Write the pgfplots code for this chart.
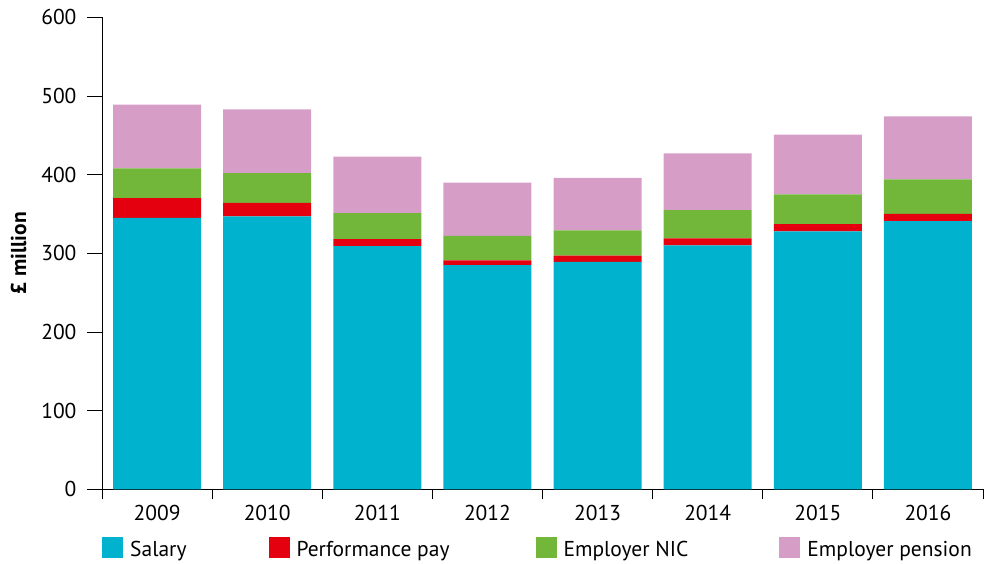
\documentclass[border=0pt]{standalone}
\usepackage{fontspec}
\setmainfont{PT Sans}
\usepackage{pgfplots}
\pgfplotsset{compat=1.18}
\definecolor{salary}{RGB}{0,178,205}
\definecolor{perf}{RGB}{228,0,15}
\definecolor{nic}{RGB}{115,183,58}
\definecolor{pension}{RGB}{214,158,199}
\newcommand\cf{\fontsize{21.5pt}{25pt}\selectfont}

\pgfplotstableread{
x salary perf nic pension
0 345 25 38 81
1 347 17 38 81
2 309 9 33 72
3 285 6 31 68
4 289 8 32 67
5 310 9 36 72
6 328 9 38 76
7 341 9 44 80
}\costs

\begin{document}
\begin{tikzpicture}
\begin{axis}[
  scale only axis, width=881pt, height=472pt,
  ybar stacked, bar width=0.8,
  xmin=-0.5, xmax=7.5, ymin=0, ymax=600,
  axis lines*=left,
  axis line style={black, line width=0.8pt},
  tick style={black, line width=0.8pt},
  tick align=outside,
  major tick length=15pt, minor tick length=10pt,
  xtick={0,...,7},
  xticklabels={2009,2010,2011,2012,2013,2014,2015,2016},
  minor xtick={-0.5,0.5,...,7.5},
  major x tick style={draw=none},
  ytick={0,100,...,600},
  /pgf/number format/assume math mode=true,
  tick label style={font=\cf},
  yticklabel style={xshift=-7pt},
  xticklabel style={yshift=3pt},
  ylabel={£ million},
  ylabel style={font=\cf\bfseries, at={(axis description cs:-0.0948,0.5)}, anchor=center},
  legend columns=4,
  legend style={draw=none, font=\cf, at={(axis description cs:0,0)}, anchor=west, yshift=-58pt, xshift=-3pt,
    nodes={inner sep=0pt},
    /tikz/every odd column/.append style={column sep=7pt},
    /tikz/column 2/.append style={column sep=82pt},
    /tikz/column 4/.append style={column sep=86pt},
    /tikz/column 6/.append style={column sep=91pt}},
  legend image code/.code={\fill[#1] (0pt,-8pt) rectangle (21pt,13pt);},
]
\addplot[fill=salary, draw=none] table[x=x, y=salary] {\costs};
\addplot[fill=perf, draw=none] table[x=x, y=perf] {\costs};
\addplot[fill=nic, draw=none] table[x=x, y=nic] {\costs};
\addplot[fill=pension, draw=none] table[x=x, y=pension] {\costs};
\legend{Salary, Performance pay, Employer NIC, Employer pension}
\end{axis}
\pgfresetboundingbox
\path (current axis.south west) ++(-102pt,-74.7pt) rectangle ++(984pt,564pt);
\end{tikzpicture}
\end{document}
